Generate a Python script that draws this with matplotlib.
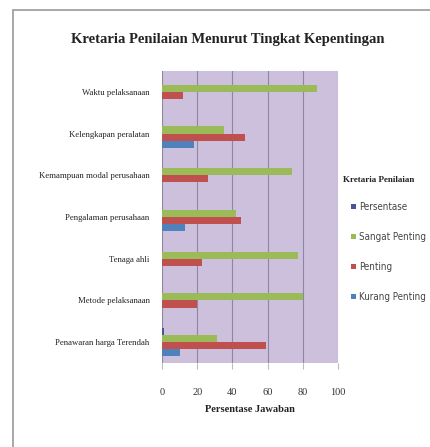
import numpy as np
import matplotlib.pyplot as plt
from matplotlib.patches import Rectangle

categories = ["Waktu pelaksanaan", "Kelengkapan peralatan", "Kemampuan modal perusahaan",
              "Pengalaman perusahaan", "Tenaga ahli", "Metode pelaksanaan",
              "Penawaran harga Terendah"]
series = ["Persentase", "Sangat Penting", "Penting", "Kurang Penting"]
persentase = [0, 0, 0, 0, 0, 0, 1]
sangat_penting = [88, 35, 74, 42, 77, 80, 31]
penting = [12, 47, 26, 45, 23, 20, 59]
kurang_penting = [0, 18, 0, 13, 0, 0, 10]
values = [persentase, sangat_penting, penting, kurang_penting]
colors = ["#4B5595", "#9BBB59", "#C0504D", "#4F81BD"]

fig = plt.figure(figsize=(4.3, 4.47), dpi=100)
ax = fig.add_axes([162/430, 1-363/447, 176/430, 292/447])
ax.set_facecolor("#CDC0DC")

y = np.arange(len(categories))[::-1]
h = 0.17
offsets = [0.255, 0.085, -0.085, -0.255]
for vals, off, c, lab in zip(values, offsets, colors, series):
    ax.barh(y + off, vals, height=h, color=c, label=lab, zorder=3)

ax.set_xlim(0, 100)
ax.set_ylim(-0.5, len(categories) - 0.5)
ax.set_xticks(range(0, 101, 20))
ax.grid(axis="x", color="#8F86A3", linewidth=0.8, zorder=0)
for s in ax.spines.values():
    s.set_visible(False)
ax.set_yticks(y)
ax.set_yticklabels(categories, family="Liberation Serif", fontsize=6.3, color="#222222")
ax.tick_params(axis="y", length=0, pad=9)
ax.tick_params(axis="x", length=4, color="#BBBBBB", pad=14, labelsize=7.5, labelcolor="#333333")
for t in ax.get_xticklabels():
    t.set_family("Liberation Serif")
ax.set_xlabel("Persentase Jawaban", family="Liberation Serif", fontsize=7.5,
              fontweight="bold", color="#222222", labelpad=6)

fig.text(228/430, 1-40/447, "Kretaria Penilaian Menurut Tingkat Kepentingan",
         ha="center", va="center", family="Liberation Serif", fontweight="bold",
         fontsize=10.5, color="#222222")

fig.text(343/430, 1-180/447, "Kretaria Penilaian", ha="left", va="center",
         family="Liberation Serif", fontweight="bold", fontsize=6.5, color="#222222")
leg = ax.legend(loc="upper left", bbox_to_anchor=(351/430, 1-202/447),
                bbox_transform=fig.transFigure, frameon=False,
                prop={"family": "DejaVu Sans", "stretch": "condensed", "size": 7},
                handlelength=0.5, handleheight=0.5, handletextpad=0.3,
                labelspacing=2.05, borderaxespad=0, borderpad=0)
for t in leg.get_texts():
    t.set_color("#444444")

fig.add_artist(Rectangle((13/430, -0.1), 1.0, 1.1 - 10/447, transform=fig.transFigure,
                         fill=False, edgecolor="#999999", linewidth=1.2))

fig.savefig("out.png", dpi=100)
